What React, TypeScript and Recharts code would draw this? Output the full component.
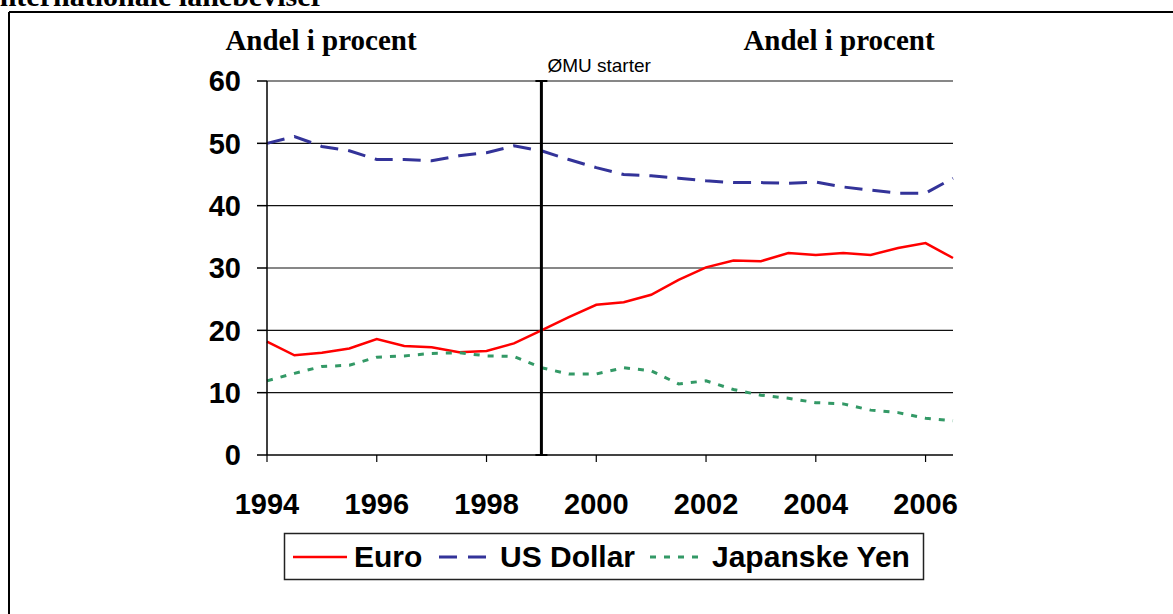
import React from "react"
import {
  LineChart,
  Line,
  XAxis,
  YAxis,
  CartesianGrid,
  ReferenceLine
} from "recharts"

const years = [
  1994, 1994.5, 1995, 1995.5, 1996, 1996.5, 1997, 1997.5, 1998, 1998.5,
  1999, 1999.5, 2000, 2000.5, 2001, 2001.5, 2002, 2002.5, 2003, 2003.5,
  2004, 2004.5, 2005, 2005.5, 2006, 2006.5
]

const euro = [
  18.2, 16.0, 16.4, 17.1, 18.6, 17.5, 17.3, 16.5, 16.7, 17.9,
  20.0, 22.1, 24.1, 24.5, 25.7, 28.1, 30.1, 31.2, 31.1, 32.4,
  32.1, 32.4, 32.1, 33.2, 34.0, 31.6
]

const usDollar = [
  50.0, 51.1, 49.5, 48.8, 47.4, 47.4, 47.2, 48.0, 48.5, 49.6,
  48.8, 47.4, 46.1, 45.0, 44.8, 44.4, 44.0, 43.7, 43.7, 43.6,
  43.8, 43.0, 42.5, 42.0, 42.0, 44.4
]

const yen = [
  11.9, 13.1, 14.2, 14.4, 15.7, 15.9, 16.3, 16.4, 15.9, 15.8,
  14.0, 13.0, 13.0, 14.0, 13.5, 11.4, 11.9, 10.5, 9.6, 9.1,
  8.4, 8.2, 7.2, 6.8, 5.9, 5.5
]

const xTicks = [1994, 1996, 1998, 2000, 2002, 2004, 2006]
const yTicks = [0, 10, 20, 30, 40, 50, 60]
const emuYear = 1999

const data = years.map((year, i) => ({
  year,
  euro: euro[i],
  usDollar: usDollar[i],
  yen: yen[i]
}))

const SANS = "'Liberation Sans', Arial, Helvetica, sans-serif"
const SERIF = "'Liberation Serif', 'Times New Roman', serif"

function EmuLine(props: any) {
  const { x1, y1, x2, y2 } = props
  const top = Math.min(y1, y2)
  const bottom = Math.max(y1, y2)
  return (
    <g>
      <line x1={x1} y1={top} x2={x2} y2={bottom} stroke="#000" strokeWidth={3} />
      <line x1={x1 - 6} y1={top} x2={x1 + 6} y2={top} stroke="#000" strokeWidth={2} />
      <line x1={x1 - 6} y1={bottom} x2={x1 + 6} y2={bottom} stroke="#000" strokeWidth={2} />
      <text x={x1 + 6} y={top - 9} fontFamily={SANS} fontSize={19} fill="#000">
        ØMU starter
      </text>
    </g>
  )
}

export default function App() {
  return (
    <div style={{ position: "absolute", left: 0, top: 0, width: 1173, height: 614, overflow: "hidden", background: "#fff" }}>
      <LineChart
        width={1173}
        height={614}
        data={data}
        margin={{ top: 81, right: 220, bottom: 99, left: 207 }}
      >
        <CartesianGrid horizontal vertical={false} stroke="#111" strokeWidth={1.2} />
        <XAxis
          dataKey="year"
          type="number"
          domain={[1994, 2006.5]}
          ticks={xTicks}
          interval={0}
          height={60}
          stroke="#000"
          strokeWidth={1.2}
          tickSize={7}
          tickMargin={31}
          tick={{ fill: "#000", fontSize: 29, fontWeight: 700, fontFamily: SANS }}
        />
        <YAxis
          type="number"
          domain={[0, 60]}
          ticks={yTicks}
          interval={0}
          width={60}
          stroke="#000"
          strokeWidth={1.5}
          tickSize={10}
          tickMargin={16}
          tick={{ fill: "#000", fontSize: 29, fontWeight: 700, fontFamily: SANS }}
        />
        <Line
          dataKey="euro"
          type="linear"
          stroke="#ff0000"
          strokeWidth={2.5}
          dot={false}
          isAnimationActive={false}
        />
        <Line
          dataKey="usDollar"
          type="linear"
          stroke="#333399"
          strokeWidth={3}
          strokeDasharray="18 10"
          dot={false}
          isAnimationActive={false}
        />
        <Line
          dataKey="yen"
          type="linear"
          stroke="#339966"
          strokeWidth={3}
          strokeDasharray="6 8"
          dot={false}
          isAnimationActive={false}
        />
        <ReferenceLine x={emuYear} shape={<EmuLine />} />
      </LineChart>

      <svg
        width={1173}
        height={614}
        style={{ position: "absolute", left: 0, top: 0, pointerEvents: "none" }}
      >
        {/* frame */}
        <line x1={9} y1={12} x2={1173} y2={12} stroke="#000" strokeWidth={2} />
        <line x1={9} y1={12} x2={9} y2={614} stroke="#000" strokeWidth={2} />
        <text x={-12} y={6} fontFamily={SERIF} fontWeight={700} fontSize={30} fill="#000">
          Internationale lånebeviser
        </text>

        <text x={321} y={50} textAnchor="middle" fontFamily={SERIF} fontWeight={700} fontSize={29} fill="#000">
          Andel i procent
        </text>
        <text x={839} y={50} textAnchor="middle" fontFamily={SERIF} fontWeight={700} fontSize={29} fill="#000">
          Andel i procent
        </text>

        {/* legend */}
        <rect x={284.5} y={533.5} width={639} height={46} fill="none" stroke="#222" strokeWidth={1.5} />
        <line x1={293} y1={557} x2={347} y2={557} stroke="#ff0000" strokeWidth={2.5} />
        <text x={354} y={567} fontFamily={SANS} fontWeight={700} fontSize={30} fill="#000">Euro</text>
        <line x1={439} y1={557} x2={487} y2={557} stroke="#333399" strokeWidth={3} strokeDasharray="18 11" />
        <text x={500} y={567} fontFamily={SANS} fontWeight={700} fontSize={30} fill="#000">US Dollar</text>
        <line x1={650} y1={557} x2={704} y2={557} stroke="#339966" strokeWidth={3} strokeDasharray="6 8" />
        <text x={712} y={567} fontFamily={SANS} fontWeight={700} fontSize={30} fill="#000">Japanske Yen</text>
      </svg>
    </div>
  )
}
